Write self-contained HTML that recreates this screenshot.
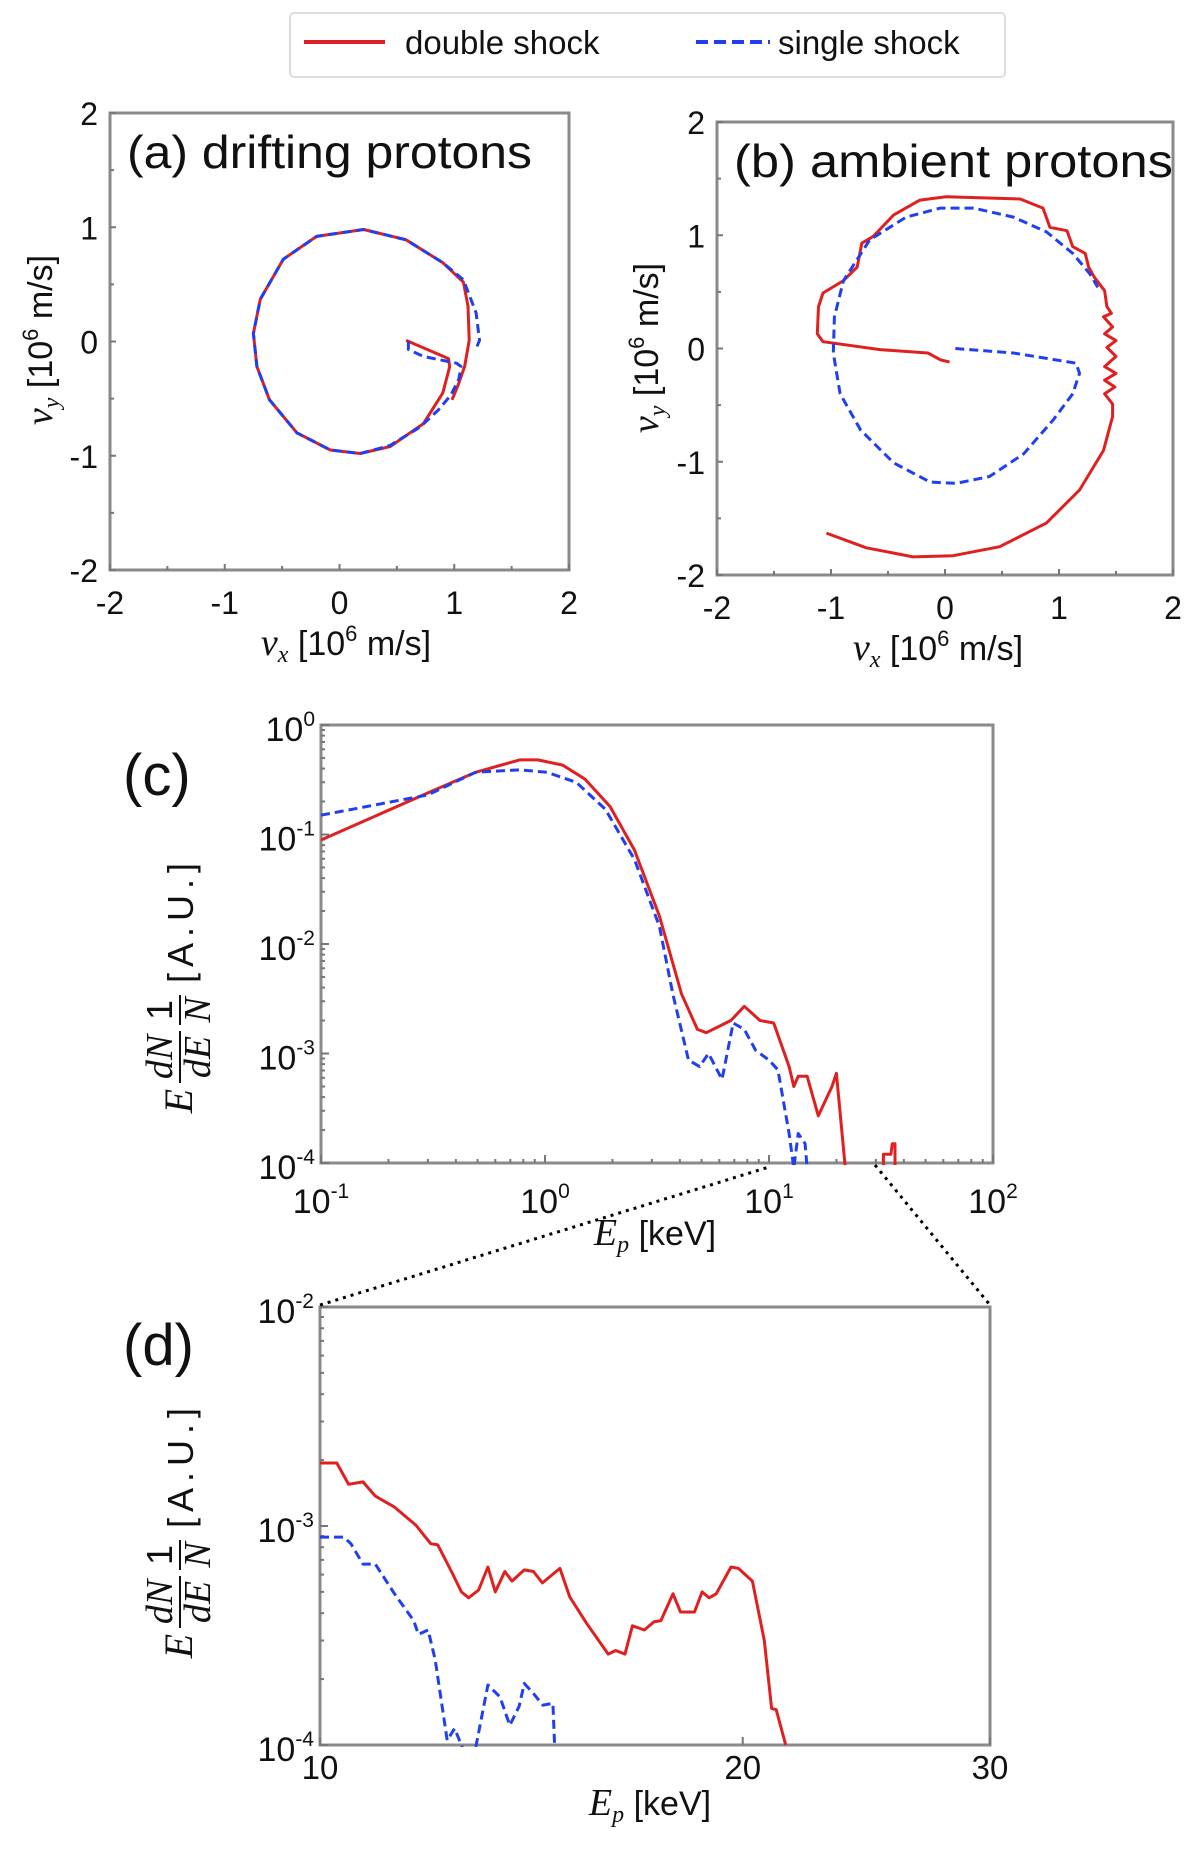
<!DOCTYPE html>
<html><head><meta charset="utf-8"><style>
html,body{margin:0;padding:0;background:#fff}
svg{display:block}
text{font-family:"Liberation Sans",sans-serif;fill:#111}
.it{font-family:"Liberation Serif",serif;font-style:italic}
</style></head><body>
<svg id="fig" width="1200" height="1852" viewBox="0 0 1200 1852" xmlns="http://www.w3.org/2000/svg">
<defs>
<clipPath id="clipA"><rect x="110" y="113" width="459" height="457"/></clipPath>
<clipPath id="clipB"><rect x="717" y="122" width="456" height="453"/></clipPath>
<clipPath id="clipC"><rect x="321" y="725" width="672" height="440"/></clipPath>
<clipPath id="clipD"><rect x="320" y="1305" width="670" height="442"/></clipPath>
</defs>
<g>
<rect x="290" y="13" width="715" height="64" rx="4" fill="#fff" stroke="#ddd" stroke-width="2"/>
<line x1="304" y1="42" x2="385" y2="42" stroke="#e02020" stroke-width="4"/>
<text x="405" y="54" font-size="33">double shock</text>
<line x1="696" y1="42" x2="770" y2="42" stroke="#2040f0" stroke-width="4" stroke-dasharray="12,6"/>
<text x="778" y="54" font-size="33">single shock</text>
</g>
<g id="panels"></g>
<line x1="320" y1="1305" x2="769" y2="1167" stroke="#000" stroke-width="3" stroke-dasharray="3,5"/>
<line x1="875" y1="1165" x2="990" y2="1305" stroke="#000" stroke-width="3" stroke-dasharray="3,5"/>
</svg>
<script>
// ---- Panel (a) data: velocity space, drifting protons
const aRedVx=[0.58,0.95,0.96,0.90,0.73,0.44,0.18,-0.08,-0.37,-0.61,-0.72,-0.75,-0.69,-0.49,-0.20,0.21,0.58,0.90,1.08,1.12,1.13,1.09,1.03,0.98];
const aRedVy=[0.01,-0.15,-0.22,-0.45,-0.72,-0.92,-0.98,-0.95,-0.80,-0.51,-0.22,0.07,0.37,0.72,0.92,0.98,0.89,0.69,0.52,0.31,0.01,-0.22,-0.39,-0.51];
const aBlueVx=[0.60,0.60,0.73,1.02,1.06,1.04,0.97,0.86,0.70,0.44,0.18,-0.08,-0.37,-0.61,-0.72,-0.75,-0.69,-0.49,-0.20,0.21,0.58,0.90,1.08,1.19,1.22,1.19];
const aBlueVy=[0.00,-0.07,-0.13,-0.19,-0.22,-0.33,-0.47,-0.60,-0.75,-0.91,-0.98,-0.95,-0.80,-0.51,-0.22,0.07,0.37,0.72,0.92,0.98,0.89,0.69,0.54,0.25,0.01,-0.06];
// ---- Panel (b) data: ambient protons
const bRedVx=[0.04,-0.04,-0.15,-0.57,-1.07,-1.12,-1.11,-1.07,-0.89,-0.77,-0.73,-0.63,-0.45,-0.22,0.01,0.66,0.86,0.92,1.07,1.12,1.23,1.26,1.31,1.40,1.42,1.46,1.39,1.47,1.40,1.50,1.42,1.50,1.40,1.50,1.40,1.49,1.40,1.47,1.47,1.39,1.18,0.89,0.48,0.07,-0.28,-0.69,-1.04];
const bRedVy=[-0.12,-0.10,-0.04,-0.01,0.06,0.13,0.37,0.49,0.60,0.72,0.93,0.99,1.18,1.31,1.34,1.32,1.24,1.07,1.04,0.90,0.84,0.72,0.63,0.51,0.37,0.31,0.28,0.19,0.13,0.07,0.01,-0.07,-0.16,-0.22,-0.28,-0.34,-0.40,-0.49,-0.60,-0.90,-1.25,-1.54,-1.75,-1.83,-1.84,-1.76,-1.63];
const bBlueVx=[0.09,0.60,1.15,1.18,1.12,0.95,0.69,0.39,0.10,-0.13,-0.45,-0.74,-0.92,-0.98,-0.97,-0.89,-0.66,-0.34,-0.04,0.25,0.60,0.89,1.12,1.27,1.34];
const bBlueVy=[0.00,-0.04,-0.13,-0.22,-0.40,-0.63,-0.93,-1.13,-1.19,-1.18,-1.01,-0.72,-0.40,-0.04,0.28,0.60,0.96,1.16,1.24,1.24,1.16,1.03,0.84,0.66,0.54];
// ---- Panel (c) data: spectra
const cRedE=[0.1,0.30,0.49,0.77,0.93,1.2,1.51,1.95,2.51,3.24,4.07,4.79,5.25,6.76,7.76,9.12,10.5,12.3,12.9,13.5,14.8,16.6,19.1,20.0,21.9];
const cRedF=[0.089,0.24,0.37,0.48,0.48,0.43,0.32,0.18,0.072,0.018,3.5e-3,1.66e-3,1.55e-3,2.0e-3,2.7e-3,2.0e-3,1.9e-3,7.6e-4,5.0e-4,6.2e-4,6.2e-4,2.7e-4,5.0e-4,6.6e-4,9e-5];
const cRedTailE=[32.4,32.4,35.0,35.5,36.5,36.5];
const cRedTailF=[9e-5,1.2e-4,1.2e-4,1.5e-4,1.5e-4,9e-5];
const cBlueE=[0.1,0.30,0.49,0.77,1.02,1.38,1.86,2.51,3.24,3.72,4.37,4.90,5.37,6.17,6.92,7.76,8.71,10.0,10.96,12.3,12.9,13.5,14.5,14.8];
const cBlueF=[0.15,0.23,0.37,0.39,0.37,0.30,0.17,0.059,0.0145,3.5e-3,8.7e-4,7.6e-4,1.0e-3,5.8e-4,1.9e-3,1.66e-3,1.07e-3,8.7e-4,7.1e-4,1.86e-4,9e-5,1.86e-4,1.5e-4,9e-5];
// ---- Panel (d) data: zoomed spectra
const dRedE=[10.00,10.28,10.48,10.73,10.95,11.30,11.70,11.99,12.13,12.42,12.61,12.76,12.97,13.17,13.33,13.54,13.70,13.98,14.19,14.40,14.82,15.06,15.48,16.04,16.24,16.49,16.69,17.02,17.29,17.49,17.84,18.06,18.48,18.71,18.93,19.15,19.62,19.86,20.32,20.72,20.97,21.13,21.46];
const dRedF=[1.94e-3,1.94e-3,1.55e-3,1.59e-3,1.37e-3,1.22e-3,1.01e-3,8.3e-4,8.2e-4,6.1e-4,5.0e-4,4.7e-4,5.1e-4,6.5e-4,5.0e-4,6.2e-4,5.6e-4,6.3e-4,6.2e-4,5.5e-4,6.4e-4,4.75e-4,3.6e-4,2.6e-4,2.7e-4,2.6e-4,3.5e-4,3.35e-4,3.65e-4,3.7e-4,4.9e-4,4.05e-4,4.05e-4,5.0e-4,4.7e-4,4.9e-4,6.5e-4,6.4e-4,5.6e-4,3.0e-4,1.47e-4,1.45e-4,1.0e-4];
const dBlueE=[10.00,10.40,10.52,10.73,10.95,11.30,11.66,11.75,11.94,12.08,12.32,12.47,12.61,12.75,12.92,13.17,13.43,13.65,13.86,13.98,14.19,14.41,14.65,14.70];
const dBlueF=[8.9e-4,8.9e-4,8.3e-4,6.7e-4,6.7e-4,4.9e-4,3.7e-4,3.2e-4,3.35e-4,2.45e-4,1.05e-4,1.19e-4,1.0e-4,8e-5,1.0e-4,1.88e-4,1.66e-4,1.23e-4,1.5e-4,1.91e-4,1.72e-4,1.52e-4,1.55e-4,9e-5];
// ---- tick labels
const vTicks=[-2,-1,0,1,2];
const vTickLabels=["-2","-1","0","1","2"];
const cXDecades=[-1,0,1,2];
const cYDecades=[0,-1,-2,-3,-4];
const dYDecades=[-2,-3,-4];
const dXTicks=[10,20,30];
const dXTickLabels=["10","20","30"];

const NS="http://www.w3.org/2000/svg";
const root=document.getElementById('panels');
function el(tag,attrs,parent){const e=document.createElementNS(NS,tag);for(const k in attrs)e.setAttribute(k,attrs[k]);(parent||root).appendChild(e);return e;}
function lin(d0,d1,r0,r1){return v=>r0+(v-d0)/(d1-d0)*(r1-r0);}
function logS(d0,d1,r0,r1){return v=>r0+(Math.log10(v)-Math.log10(d0))/(Math.log10(d1)-Math.log10(d0))*(r1-r0);}
function pathD(xs,ys,sx,sy){return xs.map((x,i)=>(i?'L':'M')+sx(x).toFixed(1)+','+sy(ys[i]).toFixed(1)).join(' ');}
function series(xs,ys,sx,sy,color,dashed,clip,name){
  const p=el('path',{d:pathD(xs,ys,sx,sy),fill:'none',stroke:color,'stroke-width':3,'stroke-linejoin':'round','clip-path':'url(#'+clip+')'});
  if(dashed)p.setAttribute('stroke-dasharray','9,5');
  
  
}
function frame(x0,y0,x1,y1,name){
  const r=el('rect',{x:x0,y:y0,width:x1-x0,height:y1-y0,fill:'none',stroke:'#8a8a8a','stroke-width':3});
  
  
}
function txt(x,y,s,size,anchor,name,cls,parent){
  const t=el('text',{x:x,y:y,'font-size':size,'text-anchor':anchor||'start'},parent);
  if(cls)t.setAttribute('class',cls);
  t.textContent=s;
  
  
  return t;
}
function ts(parent,s,attrs){const t=el('tspan',attrs||{},parent);t.textContent=s;return t;}
function tick(x1,y1,x2,y2){el('line',{x1:x1,y1:y1,x2:x2,y2:y2,stroke:'#777','stroke-width':2});}
function velLabel(parent,x,y,sub,name){
  const t=el('text',{x:x,y:y,'font-size':34,'text-anchor':'middle'},parent);
  
  
  ts(t,'v',{'class':'it','font-size':38});
  ts(t,sub,{'class':'it','font-size':24,dy:7});
  ts(t,' [10',{dy:-7});
  ts(t,'6',{'font-size':22,dy:-14});
  ts(t,' m/s]',{dy:14});
}

// ---------- velocity panels
function vPanel(X0,Y0,X1,Y1,rxs,rys,bxs,bys,clip,tag,title,titleLen,xlab,ylab){
  const sx=lin(-2,2,X0,X1), sy=lin(-2,2,Y1,Y0);
  frame(X0,Y0,X1,Y1,tag+'-plot-frame');
  vTicks.forEach((v,i)=>{
    tick(sx(v),Y1,sx(v),Y1-6); tick(X0,sy(v),X0+6,sy(v));
    if(i<4){tick(sx(v+0.5),Y1,sx(v+0.5),Y1-4);tick(X0,sy(v+0.5),X0+4,sy(v+0.5));}
    txt(sx(v),Y1+44,vTickLabels[i],32,'middle',tag+'-x-tick-label');
    txt(X0-12,sy(v)+12,vTickLabels[i],32,'end',tag+'-y-tick-label');
  });
  series(rxs,rys,sx,sy,'#e02020',false,clip,tag+'-double-shock-trajectory');
  series(bxs,bys,sx,sy,'#2040f0',true,clip,tag+'-single-shock-trajectory');
  const t=txt(X0+17,Y0+55,title,46,'start',tag+'-panel-title');
  t.setAttribute('textLength',titleLen);t.setAttribute('lengthAdjust','spacingAndGlyphs');
  velLabel(root,xlab[0],xlab[1],'x',tag+'-x-axis-title');
  const g=el('g',{transform:'translate('+ylab[0]+','+ylab[1]+') rotate(-90)'});
  velLabel(g,0,0,'y',tag+'-y-axis-title');
}
vPanel(110,113,569,570,aRedVx,aRedVy,aBlueVx,aBlueVy,'clipA','panel-a','(a) drifting protons',405,[346,655],[52,340]);
vPanel(717,122,1173,575,bRedVx,bRedVy,bBlueVx,bBlueVy,'clipB','panel-b','(b) ambient protons',439,[938,660],[658,348]);

// ---------- spectra panels
function pow10Label(x,y,exp,name,anchor){
  const t=el('text',{x:x,y:y,'font-size':34,'text-anchor':anchor});
  
  
  ts(t,'10');
  ts(t,String(exp),{'font-size':21,dy:-15});
}
function specYLabel(cx,cy,tag){
  const g=el('g',{transform:'translate('+cx+','+cy+') rotate(-90)'});
  
  
  const f=(x,y,s,size,cls,anchor)=>{const t=el('text',{x:x,y:y,'font-size':size,'text-anchor':anchor||'middle'},g);if(cls)t.setAttribute('class',cls);t.textContent=s;return t;};
  f(-128,14,'E',40,'it');
  f(-84,-6,'dN',38,'it');f(-84,32,'dE',38,'it');
  el('line',{x1:-110,y1:2,x2:-58,y2:2,stroke:'#111','stroke-width':2},g);
  f(-37,-6,'1',36,'');f(-37,32,'N',38,'it');
  el('line',{x1:-52,y1:2,x2:-22,y2:2,stroke:'#111','stroke-width':2},g);
  const u=f(-10,15,'[A.U.]',36,'','start');u.setAttribute('textLength',120);
}
function epLabel(x,y,name){
  const xl=el('text',{x:x,y:y,'font-size':34,'text-anchor':'middle'});
  
  
  ts(xl,'E',{'class':'it','font-size':38});
  ts(xl,'p',{'class':'it','font-size':24,dy:7});
  ts(xl,' [keV]',{dy:-7});
}
// panel c
(function(){
  const X0=321,X1=993,Y0=725,Y1=1163;
  const sx=logS(0.1,100,X0,X1), sy=logS(1,1e-4,Y0,Y1);
  frame(X0,Y0,X1,Y1,'panel-c-plot-frame');
  cXDecades.forEach(d=>{const v=Math.pow(10,d);tick(sx(v),Y1,sx(v),Y1-8);
    if(d<2)for(let m=2;m<10;m++)tick(sx(m*v),Y1,sx(m*v),Y1-4);
    pow10Label(sx(v),Y1+50,d,'panel-c-x-tick-label','middle');});
  cYDecades.forEach(d=>{const v=Math.pow(10,d);tick(X0,sy(v),X0+8,sy(v));
    if(d>-4)for(let m=2;m<10;m++)tick(X0,sy(m*v/10),X0+4,sy(m*v/10));
    pow10Label(X0-6,sy(v)+16,d,'panel-c-y-tick-label','end');});
  series(cRedE,cRedF,sx,sy,'#e02020',false,'clipC','panel-c-double-shock-spectrum');
  series(cRedTailE,cRedTailF,sx,sy,'#e02020',false,'clipC','panel-c-double-shock-tail');
  series(cBlueE,cBlueF,sx,sy,'#2040f0',true,'clipC','panel-c-single-shock-spectrum');
  txt(123,795,'(c)',58,'start','panel-c-label');
  epLabel(655,1245,'panel-c-x-axis-title');
  specYLabel(178,973,'panel-c');
})();
// panel d
(function(){
  const X0=320,X1=990,Y0=1307,Y1=1745;
  const sx=logS(10,30,X0,X1), sy=logS(1e-2,1e-4,Y0,Y1);
  frame(X0,Y0,X1,Y1,'panel-d-plot-frame');
  dXTicks.forEach((v,i)=>{tick(sx(v),Y1,sx(v),Y1-8);txt(sx(v),Y1+34,dXTickLabels[i],33,'middle','panel-d-x-tick-label');});
  dYDecades.forEach(d=>{const v=Math.pow(10,d);tick(X0,sy(v),X0+8,sy(v));
    if(d>-4)for(let m=2;m<10;m++)tick(X0,sy(m*v/10),X0+4,sy(m*v/10));
    pow10Label(X0-6,sy(v)+16,d,'panel-d-y-tick-label','end');});
  series(dRedE,dRedF,sx,sy,'#e02020',false,'clipD','panel-d-double-shock-spectrum');
  series(dBlueE,dBlueF,sx,sy,'#2040f0',true,'clipD','panel-d-single-shock-spectrum');
  txt(123,1365,'(d)',58,'start','panel-d-label');
  epLabel(650,1815,'panel-d-x-axis-title');
  specYLabel(178,1518,'panel-d');
})();
</script>
</body></html>
